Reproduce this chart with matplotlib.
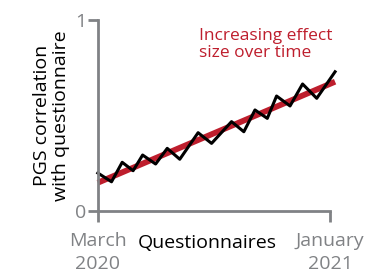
import numpy as np
import matplotlib
matplotlib.use("Agg")
import matplotlib.pyplot as plt

plt.rcParams['font.family'] = ['Open Sans', 'DejaVu Sans']

# questionnaire waves (fraction of the way from March 2020 to January 2021)
wave_x = [0.0, 0.059, 0.105, 0.152, 0.193, 0.249, 0.299, 0.353, 0.432, 0.490,
          0.576, 0.629, 0.677, 0.730, 0.770, 0.828, 0.882, 0.943, 1.022]
pgs_corr = [0.199, 0.153, 0.255, 0.211, 0.293, 0.246, 0.328, 0.271, 0.410, 0.354,
            0.468, 0.415, 0.529, 0.485, 0.602, 0.550, 0.665, 0.590, 0.729]
trend_x = [0.0, 1.022]
trend_y = [0.148, 0.677]

gray = '#808285'
red = '#be1e2d'

fig = plt.figure(figsize=(3.65, 2.76), dpi=100)
ax = fig.add_axes([0.268, 0.2355, 0.636, 0.692])

ax.plot(trend_x, trend_y, color=red, lw=4.2, solid_capstyle='butt', clip_on=False)
ax.plot(wave_x, pgs_corr, color='black', lw=2.2, clip_on=False)

ax.set_xlim(0, 1)
ax.set_ylim(0, 1)
for s in ['top', 'right']:
    ax.spines[s].set_visible(False)
for s in ['left', 'bottom']:
    ax.spines[s].set_color(gray)
    ax.spines[s].set_linewidth(2)

ax.set_yticks([0, 1])
ax.set_yticklabels(['0', '1'])
ax.tick_params(axis='y', colors=gray, length=7, width=2, labelsize=14, pad=1)
ax.set_xticks([0, 1])
ax.set_xticklabels(['March\n2020', 'January\n2021'])
ax.tick_params(axis='x', colors=gray, length=8, width=2, labelsize=14, pad=7)
for lab in ax.get_xticklabels():
    lab.set_linespacing(1.35)

ax.text(0.47, -0.165, 'Questionnaires', transform=ax.transAxes, ha='center',
        va='center', fontsize=14, color='black')
ax.set_ylabel('PGS correlation\nwith questionnaire', fontsize=14, labelpad=4,
              linespacing=1.05)

ax.text(0.435, 0.87, 'Increasing effect\nsize over time', transform=ax.transAxes,
        ha='left', va='center', fontsize=12.5, color=red, linespacing=1.1)

fig.savefig('out.png', dpi=100)
